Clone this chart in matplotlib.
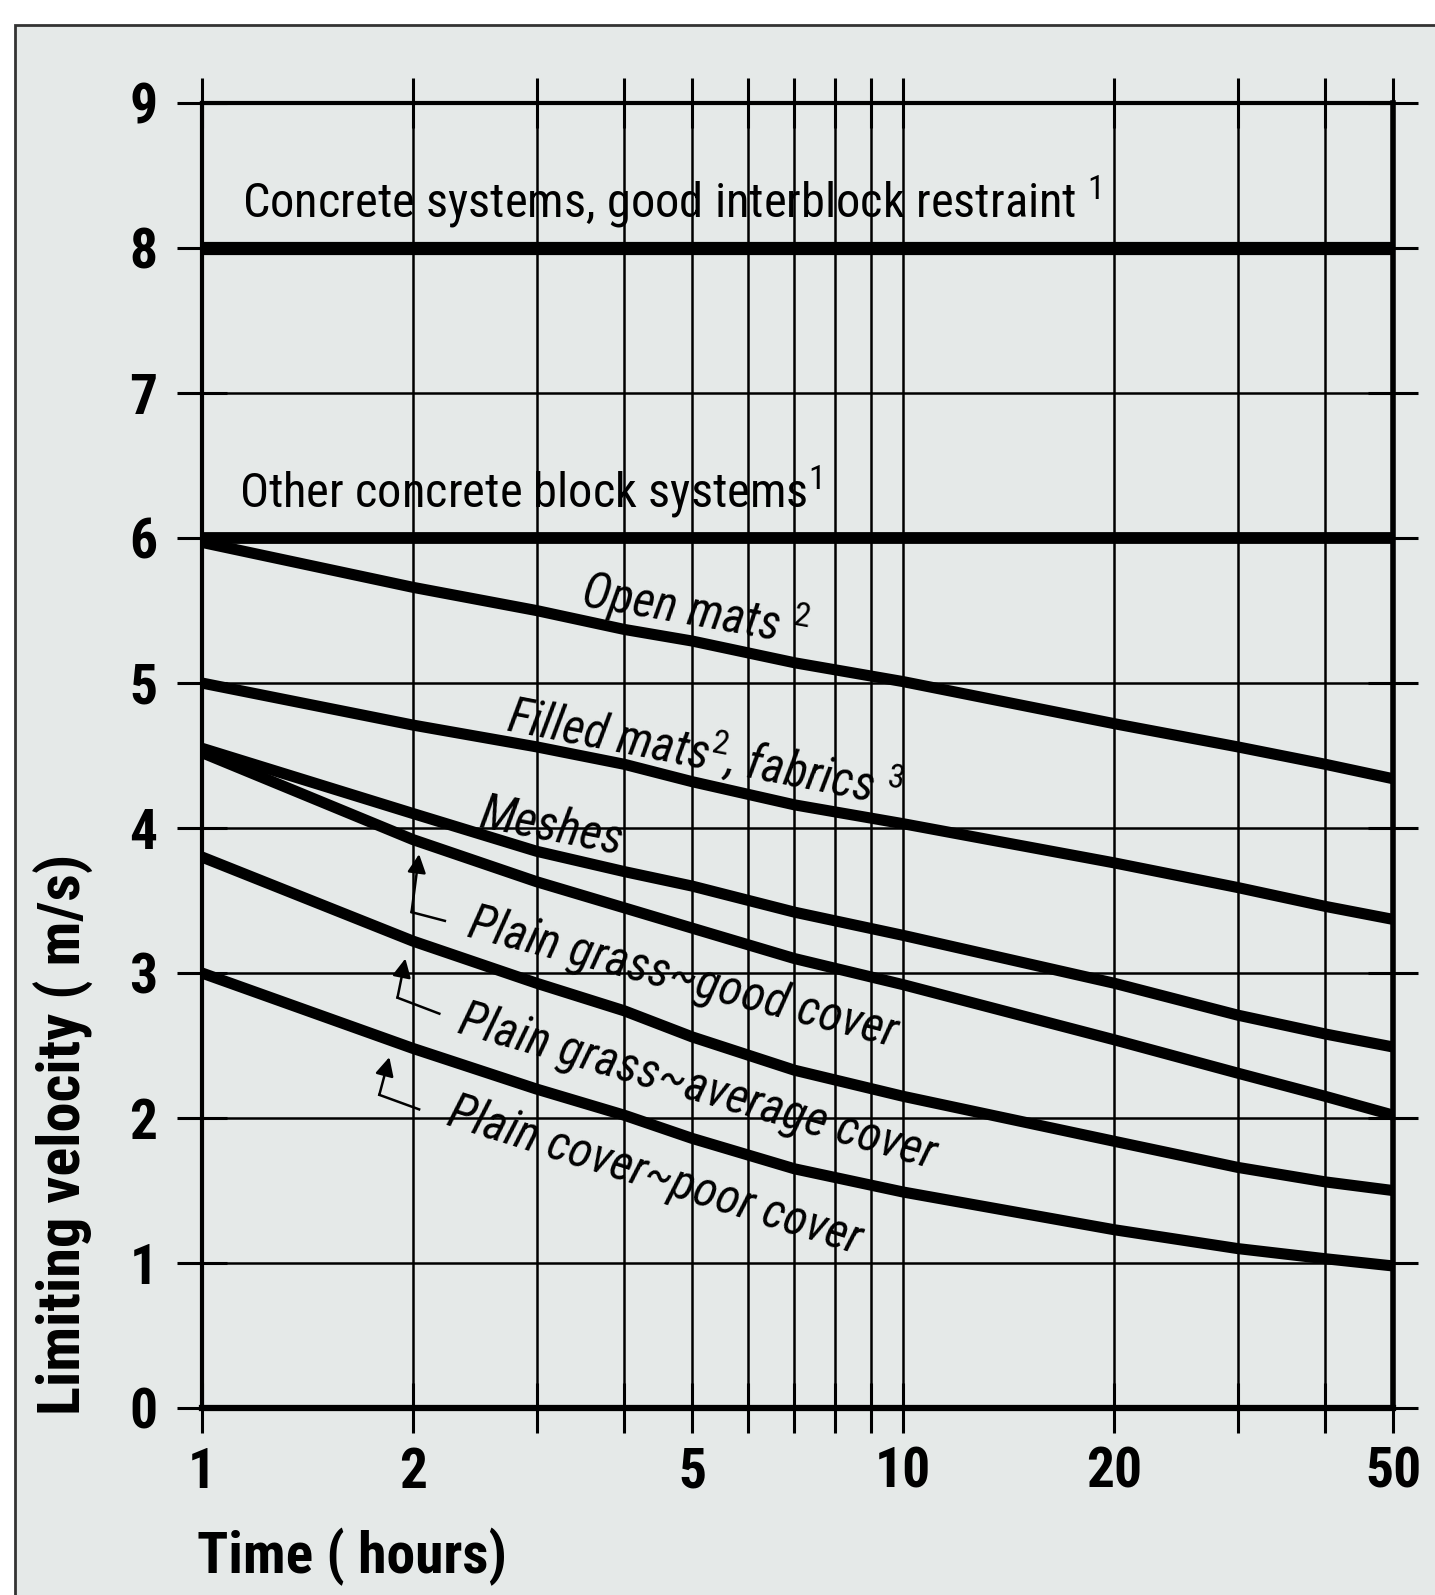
import matplotlib.pyplot as plt
from matplotlib.patches import Rectangle
from matplotlib import font_manager
import matplotlib.ticker as mticker

# look for a narrow face, the scan uses a condensed DIN-like letter
names = {f.name for f in font_manager.fontManager.ttflist}
narrow = [f.name for f in font_manager.fontManager.ttflist
          if 'Condensed' in f.name or 'Narrow' in f.name
          or f.stretch in ('condensed', 'semi-condensed', 'extra-condensed')]
font = None
for cand in ['Liberation Sans Narrow', 'Roboto Condensed', 'DejaVu Sans Condensed',
             'Open Sans Condensed', 'Noto Sans Condensed']:
    if cand in names:
        font = cand
        break
if font is None and narrow:
    font = narrow[0]
if font is None:
    font = 'Roboto' if 'Roboto' in names else 'Liberation Sans'
plt.rcParams['font.family'] = [font, 'DejaVu Sans']
plt.rcParams['mathtext.fontset'] = 'custom'
plt.rcParams['mathtext.rm'] = font
plt.rcParams['mathtext.it'] = font + ':italic'
plt.rcParams['mathtext.bf'] = font + ':bold'

# hours
t = [1, 2, 3, 4, 5, 7, 10, 20, 30, 40, 50]

# limiting velocity (m/s)
concrete_good = [8.0] * len(t)
concrete_other = [6.0] * len(t)
open_mats = [5.97, 5.66, 5.50, 5.37, 5.29, 5.14, 5.01, 4.72, 4.56, 4.44, 4.34]
filled_mats = [5.0, 4.71, 4.56, 4.44, 4.32, 4.16, 4.03, 3.76, 3.59, 3.46, 3.37]
meshes = [4.55, 4.10, 3.84, 3.70, 3.60, 3.42, 3.26, 2.93, 2.71, 2.58, 2.49]
grass_good = [4.52, 3.92, 3.63, 3.45, 3.31, 3.10, 2.92, 2.54, 2.31, 2.15, 2.02]
grass_avg = [3.80, 3.22, 2.93, 2.74, 2.56, 2.33, 2.15, 1.84, 1.66, 1.56, 1.50]
grass_poor = [3.0, 2.48, 2.20, 2.02, 1.86, 1.65, 1.49, 1.23, 1.10, 1.03, 0.98]

series = [concrete_good, concrete_other, open_mats, filled_mats,
          meshes, grass_good, grass_avg, grass_poor]
widths = [9.5, 8.5, 8, 8, 8, 8, 8, 8]

x_major = [1, 2, 5, 10, 20, 50]
x_minor = [3, 4, 6, 7, 8, 9, 30, 40]
y_ticks = list(range(0, 10))

bg = '#e5e9e8'

fig = plt.figure(figsize=(14.35, 15.95), dpi=100)
fig.patch.set_facecolor('white')
frame = Rectangle((15 / 1435, -0.01), 1.1, 1 - 25 / 1595 + 0.01,
                  transform=fig.transFigure, facecolor=bg,
                  edgecolor='#333333', lw=2.0, zorder=-10)
fig.patches.append(frame)

ax = fig.add_axes([0.1408, 0.1172, 0.830, 0.8182])
ax.set_zorder(1)
ax.set_facecolor(bg)
ax.set_xscale('log')
ax.set_xlim(1, 50)
ax.set_ylim(0, 9)

for v, w in zip(series, widths):
    ax.plot(t, v, color='black', lw=w, solid_capstyle='butt',
            solid_joinstyle='round', zorder=3)

ax.xaxis.set_major_locator(mticker.FixedLocator(x_major))
ax.xaxis.set_minor_locator(mticker.FixedLocator(x_minor))
ax.xaxis.set_major_formatter(mticker.FixedFormatter([str(v) for v in x_major]))
ax.xaxis.set_minor_formatter(mticker.NullFormatter())
ax.set_yticks(y_ticks)

ax.grid(True, which='both', color='black', lw=1.8)
ax.tick_params(axis='both', which='both', direction='inout', length=36, width=2.2,
               top=True, right=True, labelsize=40, color='black')
ax.tick_params(axis='x', which='both', pad=10)
ax.tick_params(axis='y', which='both', pad=14)
for lab in ax.get_xticklabels() + ax.get_yticklabels():
    lab.set_fontweight('bold')

for side, w in [('left', 3), ('bottom', 4.5), ('top', 3), ('right', 4)]:
    ax.spines[side].set_linewidth(w)

renderer = fig.canvas.get_renderer()


def fit(txt, width_px, vertical=False):
    bb = txt.get_window_extent(renderer)
    cur = bb.height if vertical else bb.width
    txt.set_fontsize(txt.get_fontsize() * width_px / cur)


ylab = ax.text(-0.116, 0.21, 'Limiting velocity ( m/s)', transform=ax.transAxes,
               rotation=90, ha='center', va='center', fontsize=40, fontweight='bold')
fit(ylab, 560, vertical=True)
xlab = ax.text(-0.004, -0.114, 'Time ( hours)', transform=ax.transAxes,
               ha='left', va='center', fontsize=40, fontweight='bold')
fit(xlab, 310)

# curve labels: text, x, y, rotation
labels = [
    ('Concrete systems, good interblock restraint $^{1}$', 1.14, 8.32, 0),
    ('Other concrete block systems$^{1}$', 1.13, 6.32, 0),
    ('Open mats $^{\\mathit{2}}$', 5.05, 5.50, -10),
    ('Filled mats$^{\\mathit{2}}$, fabrics $^{\\mathit{3}}$', 5.22, 4.52, -11),
    ('Meshes', 3.15, 4.00, -11),
    ('Plain grass~good cover', 4.85, 2.96, -14.5),
    ('Plain grass~average cover', 5.08, 2.21, -16),
    ('Plain cover~poor cover', 4.43, 1.60, -17.5),
]
texts = []
for s, lx, ly, rot in labels:
    texts.append(ax.text(lx, ly, s, rotation=rot, rotation_mode='anchor',
                         ha='left' if rot == 0 else 'center', va='center',
                         style='normal' if rot == 0 else 'italic',
                         fontsize=34, zorder=4))
# size all labels so the top one spans the same width as in the scan
bb = texts[0].get_window_extent(renderer)
size = 34 * 860 / bb.width
for tx in texts:
    tx.set_fontsize(size)

# leader arrows: tip, corner, end near text
leaders = [
    ((2.04, 3.82), (1.99, 3.42), (2.22, 3.36)),
    ((1.95, 3.10), (1.90, 2.83), (2.18, 2.72)),
    ((1.85, 2.42), (1.79, 2.16), (2.04, 2.06)),
]
for tip, corner, end in leaders:
    ax.plot([corner[0], end[0]], [corner[1], end[1]], color='black', lw=1.8, zorder=4)
    ax.annotate('', xy=tip, xytext=corner,
                arrowprops=dict(arrowstyle='-|>', color='black', lw=1.8,
                                mutation_scale=28, shrinkA=0, shrinkB=0), zorder=4)

fig.savefig('out.png', dpi=100, facecolor=fig.get_facecolor())
